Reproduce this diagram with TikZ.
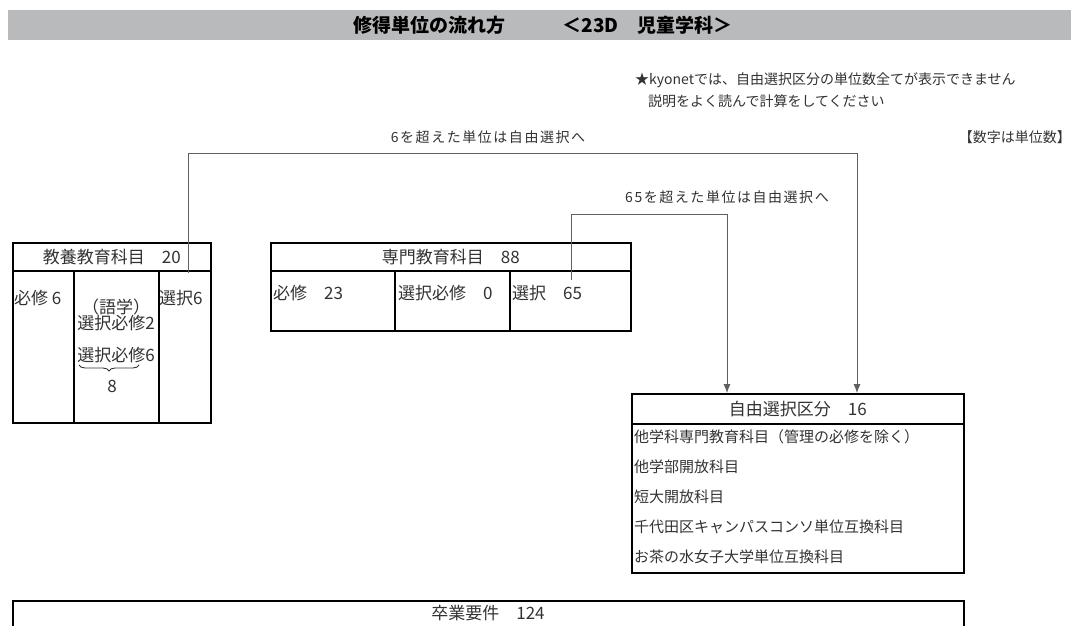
\documentclass[tikz,border=0pt]{standalone}
\usepackage{fontspec}
\setmainfont{Noto Sans CJK JP}
\newfontfamily\spaced[LetterSpace=11]{Noto Sans CJK JP}
\usetikzlibrary{positioning,arrows.meta,decorations.pathreplacing}
\definecolor{band}{RGB}{185,186,188}
\definecolor{ink}{RGB}{50,50,50}
\definecolor{wire}{RGB}{95,95,95}

\begin{document}
\begin{tikzpicture}[x=1pt,y=-1pt,>={Latex[length=9pt,width=7pt]},
    box/.style={draw,line width=1.6pt,inner sep=0pt,anchor=north west,text=ink,
      font=\fontsize{17}{18}\selectfont},
    txt/.style={inner sep=0pt,text=ink,font=\fontsize{17}{18}\selectfont},
    rowtxt/.style={inner sep=0pt,anchor=west,text=ink,font=\fontsize{15}{17}\selectfont},
    note/.style={inner sep=0pt,text=ink,font=\fontsize{14}{15}\selectfont},
    flowlabel/.style={inner sep=0pt,text=ink,font=\fontsize{14}{15}\spaced},
    flow/.style={draw=wire,line width=0.8pt}]
  \useasboundingbox (0,0) rectangle (1071,626);
  % title band
  \fill[band] (8,10) rectangle (1071,40);
  \node[font=\fontsize{19}{20}\selectfont\bfseries] (title) at (543,25)
    {修得単位の流れ方\hspace{3em}＜23D　児童学科＞};
  \node[note,anchor=west] (kyonet) at (635,80) {★kyonetでは、自由選択区分の単位数全てが表示できません};
  \node[note,anchor=west] (setsumei) at (648,101) {説明をよく読んで計算をしてください};
  \node[note,anchor=east] (unit) at (1071,137) {【数字は単位数】};

  % kyoyo
  \node[box,minimum width=198pt,minimum height=28pt] (kyo) at (12,242) {教養教育科目　20};
  \node[box,minimum width=61pt,minimum height=152pt] (kyoA) at (12,270) {};
  \node[box,minimum width=85pt,minimum height=152pt] (kyoB) at (73,270) {};
  \node[box,minimum width=52pt,minimum height=152pt] (kyoC) at (158,270) {};
  \node[txt,anchor=west] (hisshu6) at (14,298) {必修 6};
  \node[txt] (gogaku) at (116,307) {（語学）};
  \node[txt] (sel2) at (116,323) {選択必修2};
  \node[txt] (sel6m) at (116,355) {選択必修6};
  \draw[ink,line width=0.9pt,decorate,decoration={brace,amplitude=6pt}] (139,365) -- (79,365);
  \node[txt] (eight) at (112,386) {8};
  \node[txt,anchor=west] (sentaku6) at (159,298) {選択6};

  % senmon
  \node[box,minimum width=360pt,minimum height=28pt] (sen) at (270,242) {専門教育科目　88};
  \node[box,minimum width=124pt,minimum height=60pt] (senA) at (270,270) {};
  \node[box,minimum width=115pt,minimum height=60pt] (senB) at (394,270) {};
  \node[box,minimum width=121pt,minimum height=60pt] (senC) at (509,270) {};
  \node[txt,anchor=west] (hisshu23) at (273,293) {必修　23};
  \node[txt,anchor=west] (senhis0) at (398,293) {選択必修　0};
  \node[txt,anchor=west] (sentaku65) at (512,293) {選択　65};

  % jiyu
  \node[box,minimum width=332pt,minimum height=30pt] (free) at (631,393) {自由選択区分　16};
  \node[box,minimum width=332pt,minimum height=149pt] (freeB) at (631,423) {};
  \foreach \t [count=\i] in {他学科専門教育科目（管理の必修を除く）,他学部開放科目,短大開放科目,
      千代田区キャンパスコンソ単位互換科目,お茶の水女子大学単位互換科目}
    \node[rowtxt] (r\i) at (634,407+30*\i) {\t};

  % sotsugyo
  \node[box,minimum width=951pt,minimum height=60pt] (grad) at (12,600) {};
  \node[txt] (gradtxt) at (488,613) {卒業要件　124};

  % flows
  \coordinate (s6) at (188,273);
  \coordinate (turn6) at (857,153);
  \coordinate (s65) at (571,280);
  \coordinate (turn65) at (727,214);
  \draw[flow,->] (s6) |- (turn6) -- (turn6 |- free.north);
  \draw[flow,->] (s65) |- (turn65) -- (turn65 |- free.north);
  \node[flowlabel] (over6) at (488,137) {6を超えた単位は自由選択へ};
  \node[flowlabel] (over65) at (727,197) {65を超えた単位は自由選択へ};
\end{tikzpicture}
\end{document}
